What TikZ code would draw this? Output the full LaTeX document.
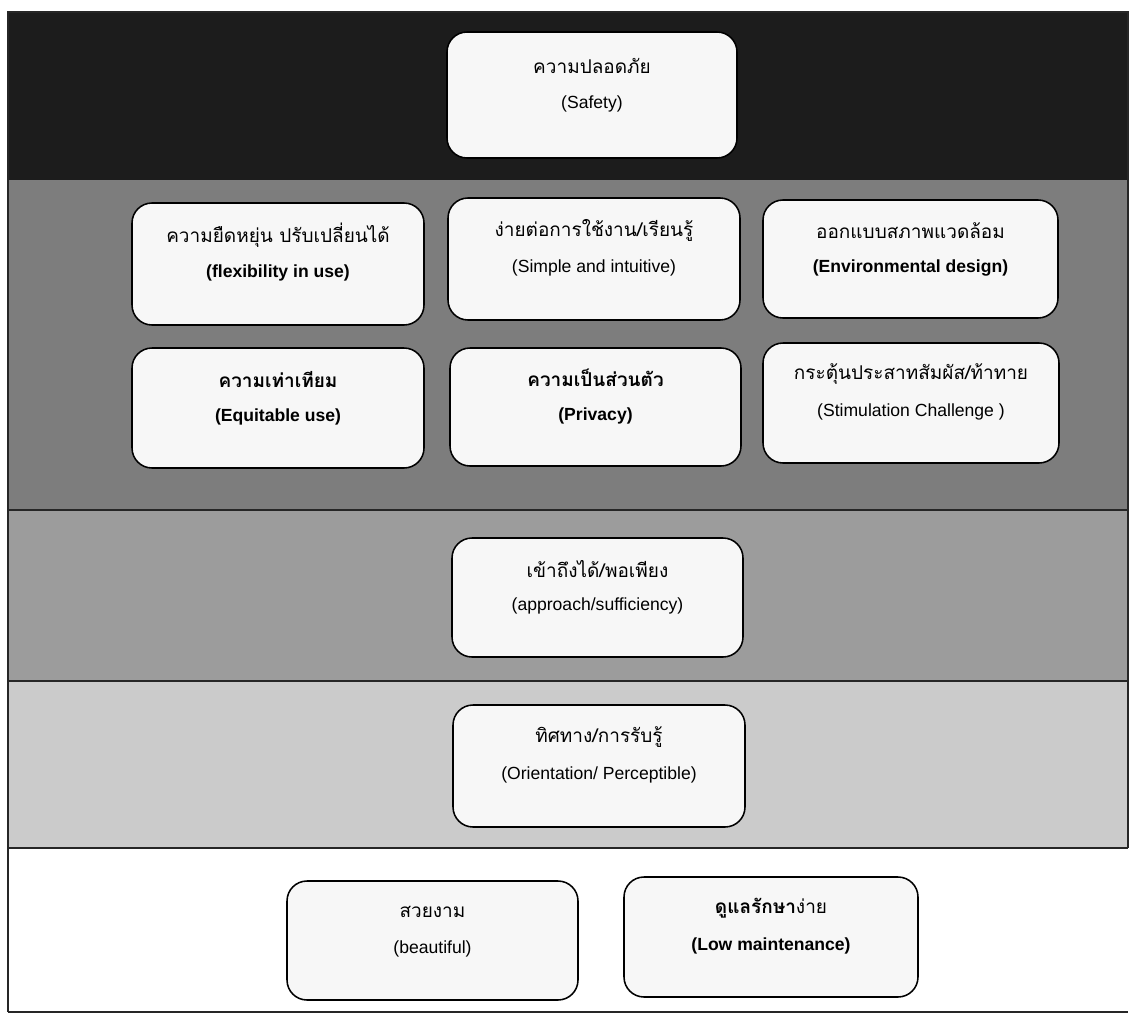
\documentclass[tikz,border=0pt]{standalone}
\usepackage{fontspec}
\setmainfont{Liberation Sans}
\newfontfamily\thai[Script=Thai]{Loma}
\definecolor{bandtop}{HTML}{1C1C1C}
\definecolor{bandmid}{HTML}{7D7D7D}
\definecolor{bandlow}{HTML}{9C9C9C}
\definecolor{bandlight}{HTML}{CBCBCB}
\tikzset{
  pillar/.style={rectangle, draw=black, line width=1.1pt, fill=white!97!black,
    rounded corners=0.5cm},
  thtext/.style={font=\thai\fontsize{13.5}{15}\selectfont, inner sep=0pt},
  entext/.style={font=\fontsize{12.5}{15}\selectfont, inner sep=0pt},
  frame/.style={draw=black!85, line width=1pt}
}
\begin{document}
\begin{tikzpicture}[x=0.025cm, y=-0.025cm]
    \useasboundingbox (0,0) rectangle (1136,1018);
    % Layers
    \fill[bandtop] (8,12) rectangle (1128,180);
    \fill[bandmid] (8,180) rectangle (1128,510);
    \fill[bandlow] (8,510) rectangle (1128,681);
    \fill[bandlight] (8,681) rectangle (1128,848);
    \draw[frame] (8,1012) -- (8,12) -- (1128,12) -- (1128,848);
    \foreach \yy in {510,681,848,1012}
        \draw[frame] (8,\yy) -- (1128,\yy);
    % Place nodes
    \foreach \n/\x/\y/\w/\h/\ta/\tb in {
        safety/592/95/290/126/{ความปลอดภัย}/{(Safety)},
        flex/278/264/292/122/{ความยืดหยุ่น ปรับเปลี่ยนได้}/{\bfseries (flexibility in use)},
        simple/594/259/292/122/{ง่ายต่อการใช้งาน/เรียนรู้}/{(Simple and intuitive)},
        env/910.5/259/295/118/{ออกแบบสภาพแวดล้อม}/{\bfseries (Environmental design)},
        equit/278/408/292/120/{\bfseries ความเท่าเทียม}/{\bfseries (Equitable use)},
        priv/595.5/407/291/118/{\bfseries ความเป็นส่วนตัว}/{\bfseries (Privacy)},
        stim/911/403/296/120/{กระตุ้นประสาทสัมผัส/ท้าทาย}/{(Stimulation Challenge )},
        appr/597.5/597.5/291/119/{เข้าถึงได้/พอเพียง}/{(approach/sufficiency)},
        orient/599/766/292/122/{ทิศทาง/การรับรู้}/{(Orientation/ Perceptible)},
        beaut/432.5/940.5/291/119/{สวยงาม}/{(beautiful)},
        lowm/771/937/294/120/{{\bfseries ดูแลรักษา}ง่าย}/{\bfseries (Low maintenance)}}
    {
        \node[pillar, minimum width=\w*0.025cm, minimum height=\h*0.025cm] (\n) at (\x,\y) {};
        \node[thtext] (\n-th) at ([yshift=0.72cm]\n.center) {\ta};
        \node[entext] (\n-en) at ([yshift=-0.22cm]\n.center) {\tb};
    }
\end{tikzpicture}
\end{document}
